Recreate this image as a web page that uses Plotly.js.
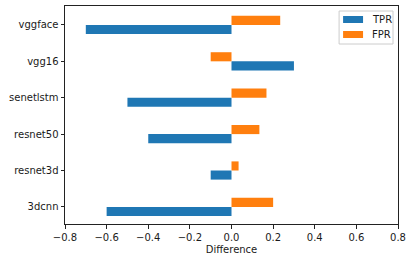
<!DOCTYPE html>
<html><head><meta charset="utf-8">
<script src="https://cdn.plot.ly/plotly-3.0.1.min.js"></script>
<style>html,body{margin:0;padding:0;background:#fff}</style>
</head><body>
<div id="chart" style="width:413px;height:262px"></div>
<script>
var models = ["3dcnn", "resnet3d", "resnet50", "senetlstm", "vgg16", "vggface"];
var tpr = [-0.60, -0.10, -0.40, -0.50, 0.30, -0.70];
var fpr = [0.20, 0.034, 0.134, 0.168, -0.10, 0.234];
var seriesNames = ["TPR", "FPR"];
var seriesColors = ["#1f77b4", "#ff7f0e"];
var xTicks = [-0.8, -0.6, -0.4, -0.2, 0.0, 0.2, 0.4, 0.6, 0.8];

var font = {family: "DejaVu Sans", size: 10, color: "#1a1a1a"};
var data = [
  {type: "bar", orientation: "h", name: seriesNames[0], y: models, x: tpr, marker: {color: seriesColors[0]}},
  {type: "bar", orientation: "h", name: seriesNames[1], y: models, x: fpr, marker: {color: seriesColors[1]}}
];

// plot area in px: left 64.5, right 398, top 6, bottom 224
function px(x) { return (x - 64.5) / 333.5; }
function py(y) { return (224 - y) / 218; }

var shapes = [
  {type: "rect", xref: "paper", yref: "paper", x0: px(339), x1: px(393), y0: py(44), y1: py(11),
   line: {color: "#cccccc", width: 1}, fillcolor: "rgba(255,255,255,0.8)", layer: "above"},
  {type: "rect", xref: "paper", yref: "paper", x0: px(343), x1: px(363), y0: py(23), y1: py(16),
   line: {width: 0}, fillcolor: seriesColors[0], layer: "above"},
  {type: "rect", xref: "paper", yref: "paper", x0: px(343), x1: px(363), y0: py(38), y1: py(31),
   line: {width: 0}, fillcolor: seriesColors[1], layer: "above"}
];
var annotations = [
  {xref: "paper", yref: "paper", x: px(370), y: py(19.5), xanchor: "left", yanchor: "middle",
   text: seriesNames[0], showarrow: false, font: font},
  {xref: "paper", yref: "paper", x: px(370), y: py(34.5), xanchor: "left", yanchor: "middle",
   text: seriesNames[1], showarrow: false, font: font}
];

var layout = {
  width: 413, height: 262,
  margin: {l: 64.5, r: 15, t: 6, b: 38, pad: 0},
  paper_bgcolor: "#fff", plot_bgcolor: "#fff",
  font: font,
  barmode: "group", bargap: 0.5, bargroupgap: 0,
  showlegend: false,
  shapes: shapes, annotations: annotations,
  xaxis: {range: [-0.8, 0.8], tickvals: xTicks, tickformat: ".1f", showgrid: false, zeroline: false,
          showline: true, mirror: true, linecolor: "#222", linewidth: 1,
          ticks: "outside", ticklen: 3.5, tickcolor: "#222", tickfont: font,
          title: {text: "Difference", font: font, standoff: 4}},
  yaxis: {type: "category", range: [-0.47, 5.52], showgrid: false, zeroline: false,
          showline: true, mirror: true, linecolor: "#222", linewidth: 1,
          ticks: "outside", ticklen: 3.5, tickcolor: "#222", tickfont: font}
};
Plotly.newPlot("chart", data, layout, {displayModeBar: false, staticPlot: true});
</script>
</body></html>
